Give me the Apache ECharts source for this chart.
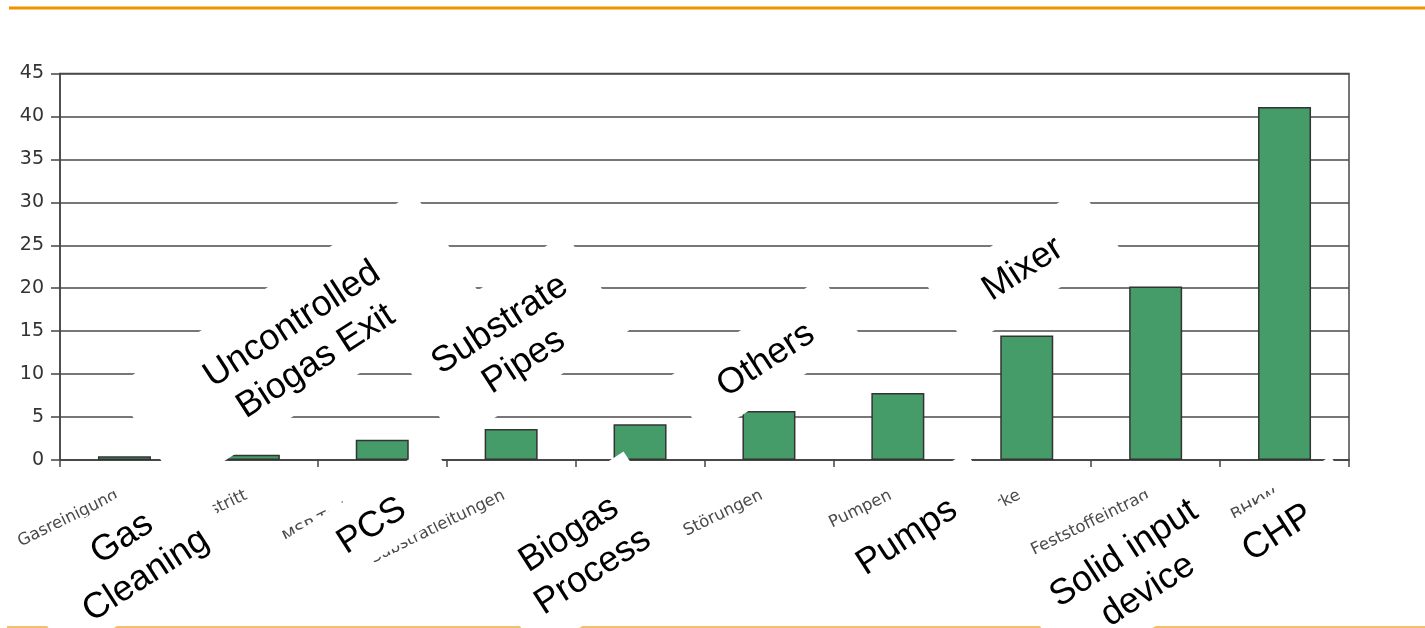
<!DOCTYPE html>
<html>
<head>
<meta charset="utf-8">
<script src="https://cdn.jsdelivr.net/npm/echarts@6/dist/echarts.min.js"></script>
<style>
html,body{margin:0;padding:0;background:#fff;}
#chart{width:1425px;height:628px;}
</style>
</head>
<body>
<div id="chart"></div>
<script>
// ---- data ----
const categories = ['Gasreinigung', 'Unkontrollierter Gasaustritt', 'MSR-Technik', 'Substratleitungen', 'Biologie', 'Störungen', 'Pumpen', 'Rührwerke', 'Feststoffeintrag', 'BHKW'];
const values = [0.45, 0.6, 2.35, 3.6, 4.15, 5.7, 7.8, 14.5, 20.2, 41.1];
const englishLabels = ['Gas\nCleaning', 'Uncontrolled\nBiogas Exit', 'PCS', 'Substrate\nPipes', 'Biogas\nProcess', 'Others', 'Pumps', 'Mixer', 'Solid input\ndevice', 'CHP'];
const yMin = 0, yMax = 45, yStep = 5;

// ---- annotation layout (pixel placement of the overlaid English captions) ----
// [textX, textY, boxX, boxY, boxHalfW, boxHalfH]
const captionLayout = [
  [134, 557, 124, 557, 102, 54],
  [304, 343, 297, 341, 179, 61],
  [372, 526, 370, 524, 95, 33],
  [512, 343, 511, 338, 103, 58],
  [581, 553, 581, 553, 91, 62],
  [766, 360, 764, 358, 93, 36],
  [907, 537, 907, 537, 96, 39],
  [1023, 269, 1024, 268, 91, 36],
  [1136, 572, 1136, 572, 110, 56],
  [1278, 533, 1278, 533, 86, 36]
];
const ROT = 33 * Math.PI / 180;

const graphics = [
  {type: 'line', z: 1, shape: {x1: 9, y1: 8, x2: 1425, y2: 8}, style: {stroke: '#F39200', lineWidth: 3}},
  {type: 'line', z: 1, shape: {x1: 7, y1: 627, x2: 1425, y2: 627}, style: {stroke: '#F4BE6E', lineWidth: 2}}
];
englishLabels.forEach((t, i) => {
  const L = captionLayout[i];
  graphics.push({
    type: 'rect', z: 100, x: L[2], y: L[3], rotation: ROT,
    shape: {x: -L[4], y: -L[5], width: 2 * L[4], height: 2 * L[5]},
    style: {fill: '#ffffff'}
  });
  graphics.push({
    type: 'text', z: 101, x: L[0], y: L[1], rotation: ROT,
    style: {text: t, align: 'center', verticalAlign: 'middle', fill: '#000',
            font: '36px "Liberation Sans", Arial, sans-serif', lineHeight: 44}
  });
});

const chart = echarts.init(document.getElementById('chart'), null, {renderer: 'canvas'});
chart.setOption({
  animation: false,
  backgroundColor: '#fff',
  grid: {left: 60, right: 76, top: 73.5, bottom: 168, show: true, borderColor: '#4a4a4a', borderWidth: 1.5, containLabel: false},
  xAxis: {
    type: 'category', data: categories, boundaryGap: true,
    axisLine: {show: true, lineStyle: {color: '#444', width: 1.5}},
    axisTick: {show: true, length: 7, alignWithLabel: false, lineStyle: {color: '#444', width: 1.5}},
    axisLabel: {interval: 0, rotate: 26, margin: 31, padding: [0, 8, 0, 0], fontSize: 16.5, color: '#4a4a4a', fontFamily: '"DejaVu Sans", sans-serif'},
    splitLine: {show: false}
  },
  yAxis: {
    type: 'value', min: yMin, max: yMax, interval: yStep,
    axisLine: {show: true, lineStyle: {color: '#444', width: 1.5}},
    axisTick: {show: true, length: 9, lineStyle: {color: '#444', width: 1.5}},
    axisLabel: {margin: 16, fontSize: 19, color: '#333', fontFamily: '"DejaVu Sans", sans-serif'},
    splitLine: {show: true, lineStyle: {color: '#4a4a4a', width: 1.5}}
  },
  series: [{
    type: 'bar', data: values, barWidth: 53,
    itemStyle: {color: '#459C68', borderColor: '#333', borderWidth: 1.5}
  }],
  graphic: {elements: graphics}
});
</script>
</body>
</html>
